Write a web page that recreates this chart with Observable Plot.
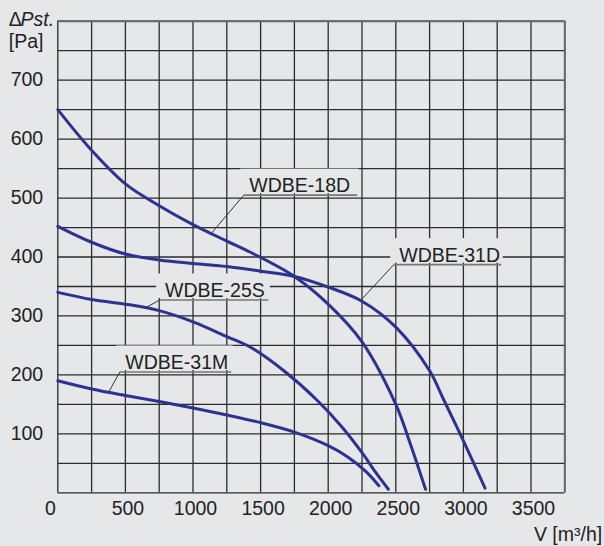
<!DOCTYPE html>
<html>
<head>
<meta charset="utf-8">
<script src="https://cdn.jsdelivr.net/npm/d3@7"></script>
<script src="https://cdn.jsdelivr.net/npm/@observablehq/plot@0.6"></script>
<style>
html, body { margin: 0; padding: 0; background: #e6e7e9; }
#chart svg { display: block; }
</style>
</head>
<body>
<div id="chart"></div>
<script>
// ---- grid & tick values ----
const xGrid = [0, 250, 500, 750, 1000, 1250, 1500, 1750, 2000, 2250, 2500, 2750, 3000, 3250, 3500, 3750];
const yGrid = [0, 50, 100, 150, 200, 250, 300, 350, 400, 450, 500, 550, 600, 650, 700, 750, 800];
const xTicks = [0, 500, 1000, 1500, 2000, 2500, 3000, 3500];
const yTicks = [100, 200, 300, 400, 500, 600, 700];

// ---- fan curves: flow V [m3/h] and static pressure [Pa] ----
const flow18D = [0, 250, 500, 750, 1000, 1250, 1425, 1750, 2000, 2250, 2500, 2600, 2720];
const pres18D = [650, 581, 524, 487, 455, 427, 408, 367, 320, 256, 150, 88, 6];

const flow31D = [0, 250, 500, 750, 1000, 1250, 1500, 1750, 2000, 2250, 2500, 2750, 2850, 3000, 3160];
const pres31D = [452, 425, 405, 395, 389, 384, 376, 367, 349, 325, 281, 207, 160, 88, 8];

const flow25S = [0, 250, 500, 750, 1000, 1250, 1425, 1672, 1918, 2100, 2250, 2350, 2445];
const pres25S = [340, 328, 320, 309, 290, 265, 247, 207, 157, 112, 68, 35, 6];

const flow31M = [0, 250, 500, 750, 1000, 1250, 1500, 1750, 2000, 2150, 2280, 2375];
const pres31M = [190, 176, 165, 155, 144, 132, 119, 103, 80, 60, 36, 12];

// ---- curve labels (annotation anchors in data units) ----
const labelNames = ["WDBE-18D", "WDBE-31D", "WDBE-25S", "WDBE-31M"];
const labelFlow = [1376, 2485, 753, 459];        // underline start
const labelFlowEnd = [2214, 3280, 1558, 1283];   // underline end
const labelPressure = [505, 387, 327, 205];      // underline level
const targetFlow = [1135, 2239, 650, 377];       // leader touches curve
const targetPressure = [440, 326, 314, 171];

const series = [
  {name: "WDBE-18D", flow: flow18D, pressure: pres18D},
  {name: "WDBE-31D", flow: flow31D, pressure: pres31D},
  {name: "WDBE-25S", flow: flow25S, pressure: pres25S},
  {name: "WDBE-31M", flow: flow31M, pressure: pres31M}
];
const curveRows = series.flatMap(s => s.flow.map((f, i) => ({name: s.name, flow: f, pressure: s.pressure[i]})));
const labelRows = labelNames.map((n, i) => ({
  name: n, x1: labelFlow[i], x2: labelFlowEnd[i], y: labelPressure[i], tx: targetFlow[i], ty: targetPressure[i]
}));

const bg = "#e6e7e9";
const ink = "#222222";
const gridColor = "#2b2b2b";
const curveColor = "#2b3391";
const font = "'Liberation Sans', Arial, Helvetica, sans-serif";

const chart = Plot.plot({
  width: 604,
  height: 546,
  marginLeft: 57.3,
  marginRight: 39.7,
  marginTop: 20.7,
  marginBottom: 53.7,
  x: {domain: [0, 3750], axis: null},
  y: {domain: [0, 800], axis: null},
  style: {background: bg, fontFamily: font, fontSize: "19.5px", color: ink, overflow: "visible"},
  marks: [
    Plot.ruleX(xGrid, {x: d => d, stroke: gridColor, strokeWidth: 1.3}),
    Plot.ruleY(yGrid, {y: d => d, stroke: gridColor, strokeWidth: 1.3}),
    Plot.ruleY([800], {y: d => d, stroke: "#6a6a6a", strokeWidth: 2}),
    Plot.ruleX([3750], {x: d => d, stroke: "#6a6a6a", strokeWidth: 2}),

    // y tick labels
    Plot.text(yTicks, {frameAnchor: "left", y: d => d, text: d => `${d}`, dx: -14.6, textAnchor: "end", fill: ink}),
    // x tick labels
    Plot.text(xTicks.filter(d => d > 0), {frameAnchor: "bottom", x: d => d, text: d => `${d}`, lineAnchor: "top", dy: 8.4, dx: 2.5, fill: ink}),
    Plot.text(xTicks.filter(d => d === 0), {frameAnchor: "bottom", x: d => d, text: d => `${d}`, lineAnchor: "top", dy: 8.4, dx: -7.3, fill: ink}),

    // axis titles
    Plot.text(["Δ"], {frameAnchor: "top-left", text: d => d, dx: -49, dy: 4.3, lineAnchor: "bottom", textAnchor: "start", fill: ink}),
    Plot.text(["Pst."], {frameAnchor: "top-left", text: d => d, dx: -37.3, dy: 4.3, lineAnchor: "bottom", textAnchor: "start", fontStyle: "italic", fill: ink}),
    Plot.text(["[Pa]"], {frameAnchor: "top-left", text: d => d, dx: -49, dy: 26.3, lineAnchor: "bottom", textAnchor: "start", fill: ink}),
    Plot.text(["V [m³/h]"], {frameAnchor: "bottom-right", text: d => d, dx: 37.4, dy: 47.7, lineAnchor: "bottom", textAnchor: "end", fill: ink}),

    // label background boxes and labels
    Plot.rect(labelRows, {x1: "x1", x2: "x2", y1: "y", y2: "y", fill: bg,
      insetTop: -26, insetBottom: 1.5, insetLeft: -3, insetRight: -2}),
    Plot.text(labelRows, {x: "x1", y: "y", text: "name", textAnchor: "start", lineAnchor: "bottom", dx: 5.5, dy: -3, fill: ink}),
    Plot.link(labelRows, {x1: "x1", x2: "x2", y1: "y", y2: "y", stroke: "#777", strokeWidth: 1.6}),
    Plot.link(labelRows, {x1: "x1", y1: "y", x2: "tx", y2: "ty", stroke: "#333", strokeWidth: 1}),

    // fan curves
    Plot.line(curveRows, {x: "flow", y: "pressure", z: "name", stroke: curveColor, strokeWidth: 3, curve: "catmull-rom"})
  ]
});
document.getElementById("chart").appendChild(chart);
</script>
</body>
</html>
